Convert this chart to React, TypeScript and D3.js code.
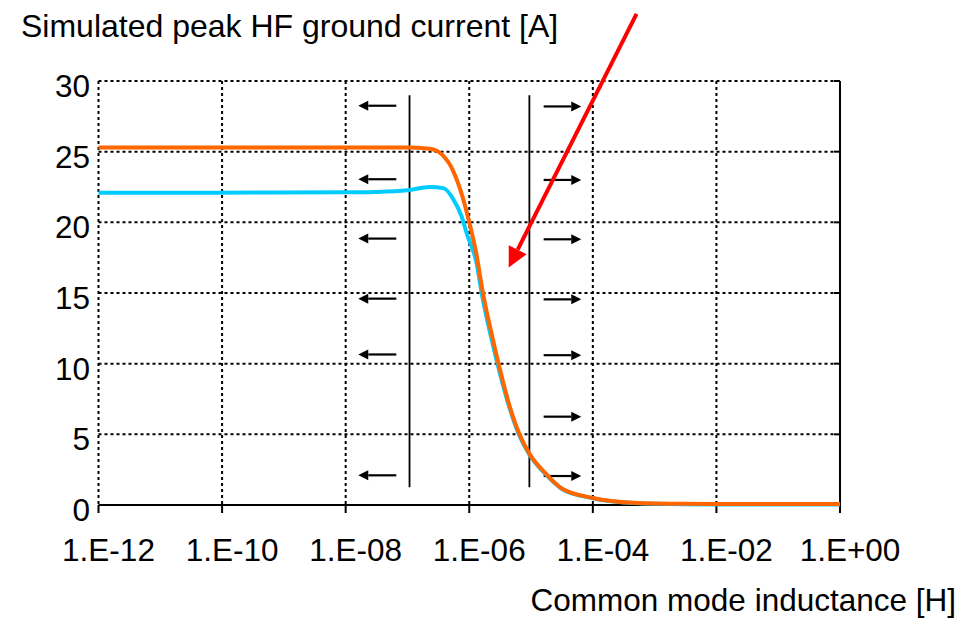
import React from "react";
import * as d3 from "d3";

// ---- data ----
const xTickValues = [1e-12, 1e-10, 1e-8, 1e-6, 1e-4, 1e-2, 1];
const xTickLabels = ["1.E-12", "1.E-10", "1.E-08", "1.E-06", "1.E-04", "1.E-02", "1.E+00"];
const yTickValues = [0, 5, 10, 15, 20, 25, 30];

const inductanceOrange = [1e-12, 1e-10, 1e-8, 1e-7, 2.3e-7, 3.7e-7, 5.4e-7, 7.8e-7, 1e-6, 1.3e-6, 1.65e-6, 2.25e-6, 3.1e-6, 4.5e-6, 6.5e-6, 9.5e-6, 1.75e-5, 3.2e-5, 1e-4, 4.5e-4, 3e-3, 1e-2, 1];
const currentOrange = [25.3, 25.3, 25.3, 25.3, 25.2, 24.75, 23.7, 21.8, 20.0, 17.8, 15.1, 12.3, 9.7, 7.0, 5.0, 3.6, 2.2, 1.15, 0.5, 0.16, 0.08, 0.07, 0.07];

const inductanceCyan = [1e-12, 1e-10, 1e-8, 3e-8, 1e-7, 2.3e-7, 3.9e-7, 5.4e-7, 7.4e-7, 9.3e-7, 1.3e-6, 1.65e-6, 2.25e-6, 3.1e-6, 4.5e-6, 6.5e-6, 9.5e-6, 1.75e-5, 3.2e-5, 1e-4, 4.5e-4, 3e-3, 1e-2, 1];
const currentCyan = [22.1, 22.1, 22.12, 22.15, 22.27, 22.5, 22.4, 21.7, 20.5, 19.1, 17.2, 14.6, 11.9, 9.4, 6.85, 4.9, 3.55, 2.15, 1.12, 0.48, 0.14, 0.05, 0.04, 0.04];

// annotation arrows (inductance extents, current level)
const leftArrowFrom = 6.6e-8;
const leftArrowTo = 1.6e-8;
const leftArrowLevels = [28.25, 23.05, 18.85, 14.6, 10.65, 2.1];
const rightArrowFrom = 1.6e-5;
const rightArrowTo = 6.5e-5;
const rightArrowLevels = [28.2, 23.0, 18.8, 14.55, 10.6, 6.25, 2.05];
const boundaryLines = [1.08e-7, 9.4e-6];
const boundaryTop = 29.0;
const boundaryBottom = 1.25;
const redArrowStart = { L: 5.1e-4, I: 34.75 };
const redArrowEnd = { L: 4.35e-6, I: 16.8 };

const FONT = "'Liberation Sans', Arial, Helvetica, sans-serif";

export default function App() {
  const width = 971;
  const height = 620;
  const x = d3.scaleLog().domain([1e-12, 1]).range([98.5, 840]);
  const y = d3.scaleLinear().domain([0, 30]).range([505, 81]);

  const line = d3
    .line<[number, number]>()
    .x((d) => x(d[0]))
    .y((d) => y(d[1]))
    .curve(d3.curveMonotoneX);

  const orangeData: [number, number][] = inductanceOrange.map((L, i) => [L, currentOrange[i]]);
  const cyanData: [number, number][] = inductanceCyan.map((L, i) => [L, currentCyan[i]]);

  const x0 = x.range()[0];
  const x1 = x.range()[1];
  const yTop = y(30);
  const yBot = y(0);

  const dash = "3 3";

  const arrow = (xs: number, xe: number, yy: number, key: string) => {
    const dir = Math.sign(xe - xs);
    const head = 10;
    const hw = 5;
    return (
      <g key={key}>
        <line x1={xs} y1={yy} x2={xe - dir * head} y2={yy} stroke="#000" strokeWidth={2.2} />
        <path d={`M${xe},${yy} L${xe - dir * head},${yy - hw} L${xe - dir * head},${yy + hw} Z`} fill="#000" />
      </g>
    );
  };

  // red arrow geometry
  const rx1 = x(redArrowStart.L);
  const ry1 = y(redArrowStart.I);
  const rx2 = x(redArrowEnd.L);
  const ry2 = y(redArrowEnd.I);
  const ang = Math.atan2(ry2 - ry1, rx2 - rx1);
  const headLen = 20;
  const headHalf = 10;
  const bx = rx2 - headLen * Math.cos(ang);
  const by = ry2 - headLen * Math.sin(ang);
  const px = -Math.sin(ang);
  const py = Math.cos(ang);

  return (
    <svg
      width={width}
      height={height}
      style={{ position: "absolute", left: 0, top: 0, background: "#fff" }}
      fontFamily={FONT}
    >
      <rect x={0} y={0} width={width} height={height} fill="#fff" />

      {/* horizontal dotted gridlines */}
      {yTickValues
        .filter((v) => v > 0)
        .map((v) => (
          <line key={"hg" + v} x1={x0} x2={x1 - 5} y1={y(v)} y2={y(v)} stroke="#000" strokeWidth={2} strokeDasharray={dash} />
        ))}
      {/* vertical dotted gridlines incl. left axis */}
      {xTickValues
        .filter((v) => v < 1)
        .map((v) => (
          <line key={"vg" + v} x1={x(v)} x2={x(v)} y1={yTop} y2={yBot} stroke="#000" strokeWidth={2} strokeDasharray={dash} />
        ))}

      {/* right axis */}
      <line x1={x1} x2={x1} y1={yTop} y2={yBot + 8} stroke="#000" strokeWidth={2} />
      {yTickValues
        .filter((v) => v > 0)
        .map((v) => (
          <line key={"rt" + v} x1={x1 - 6} x2={x1} y1={y(v)} y2={y(v)} stroke="#000" strokeWidth={2} />
        ))}
      {/* bottom axis */}
      <line x1={x0} x2={x1} y1={yBot} y2={yBot} stroke="#000" strokeWidth={2} />
      {xTickValues.map((v) => (
        <line key={"bt" + v} x1={x(v)} x2={x(v)} y1={yBot} y2={yBot + 8} stroke="#000" strokeWidth={2} />
      ))}

      {/* boundary lines */}
      {boundaryLines.map((L) => (
        <line key={"bl" + L} x1={x(L)} x2={x(L)} y1={y(boundaryTop)} y2={y(boundaryBottom)} stroke="#000" strokeWidth={1.8} />
      ))}

      {/* arrows */}
      {leftArrowLevels.map((v, i) => arrow(x(leftArrowFrom), x(leftArrowTo), y(v), "la" + i))}
      {rightArrowLevels.map((v, i) => arrow(x(rightArrowFrom), x(rightArrowTo), y(v), "ra" + i))}

      {/* series */}
      <path d={line(cyanData) || ""} fill="none" stroke="#00CCFF" strokeWidth={4} strokeLinejoin="round" />
      <path d={line(orangeData) || ""} fill="none" stroke="#FF6600" strokeWidth={4} strokeLinejoin="round" />

      {/* red arrow */}
      <line x1={rx1} y1={ry1} x2={bx} y2={by} stroke="#FF0000" strokeWidth={4} />
      <path
        d={`M${rx2},${ry2} L${bx + px * headHalf},${by + py * headHalf} L${bx - px * headHalf},${by - py * headHalf} Z`}
        fill="#FF0000"
      />

      {/* y tick labels */}
      {yTickValues.map((v) => (
        <text key={"yl" + v} x={90} y={y(v) + 16} textAnchor="end" fontSize={31.5} fill="#000">
          {v}
        </text>
      ))}
      {/* x tick labels */}
      {xTickValues.map((v, i) => (
        <text key={"xl" + v} x={x(v) + 10} y={561} textAnchor="middle" fontSize={31.5} fill="#000">
          {xTickLabels[i]}
        </text>
      ))}

      <text x={21} y={37} fontSize={32} fill="#000">
        Simulated peak HF ground current [A]
      </text>
      <text x={956} y={611} textAnchor="end" fontSize={31.5} fill="#000">
        Common mode inductance [H]
      </text>
    </svg>
  );
}
